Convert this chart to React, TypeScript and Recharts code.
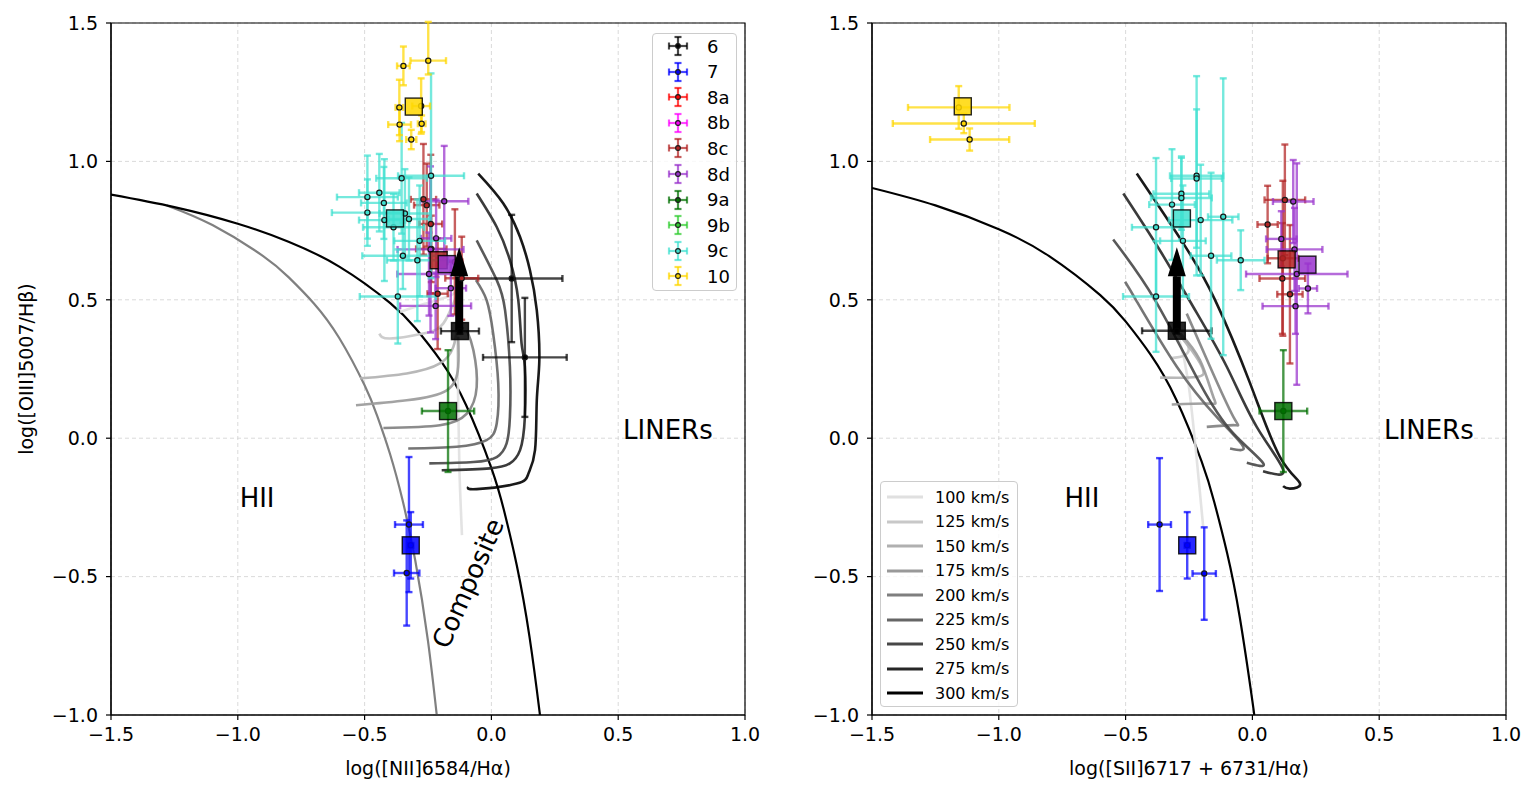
import React from "react";
import {
  ComposedChart,
  Line,
  Scatter,
  ErrorBar,
  XAxis,
  YAxis,
  CartesianGrid,
  ReferenceArea,
  ReferenceDot,
  ReferenceLine,
} from "recharts";

type Err = number | [number, number];
type Pt = { x: number; y: number; ex: Err; ey: Err };
type Sq = { g: string; x: number; y: number };
type XY = [number, number] | null;

const FONT = "'DejaVu Sans', sans-serif";

const xTicks = [-1.5, -1.0, -0.5, 0.0, 0.5, 1.0];
const yTicks = [-1.0, -0.5, 0.0, 0.5, 1.0, 1.5];

const groupNames = ["6", "7", "8a", "8b", "8c", "8d", "9a", "9b", "9c", "10"];
const groupColors = ["#000000", "#0000ff", "#ff0000", "#ff00ff", "#b22222", "#9932cc", "#006f00", "#32cd32", "#40e0d0", "#ffd700"];

const velocities = [100, 125, 150, 175, 200, 225, 250, 275, 300];
const velocityGreys = ["#e0e0e0", "#c8c8c8", "#b0b0b0", "#999999", "#7f7f7f", "#666666", "#474747", "#262626", "#000000"];

// demarcation curves
const kewleyNii: XY[] = [
  [-1.5, 0.88], [-1.25, 0.835], [-1.0, 0.775], [-0.8, 0.71], [-0.6, 0.62], [-0.4, 0.489], [-0.3, 0.398],
  [-0.2, 0.28], [-0.1, 0.12], [0.0, -0.108], [0.05, -0.262], [0.1, -0.459], [0.15, -0.716], [0.19, -0.989], [0.2, -1.069],
];
const kauffmannNii: XY[] = [
  [-1.28, 0.841], [-1.1, 0.77], [-0.9, 0.658], [-0.8, 0.582], [-0.7, 0.487], [-0.6, 0.362], [-0.5, 0.191],
  [-0.45, 0.08], [-0.4, -0.056], [-0.35, -0.225], [-0.3, -0.443], [-0.25, -0.733], [-0.21, -1.046],
];
const kewleySii: XY[] = [
  [-1.5, 0.904], [-1.25, 0.841], [-1.0, 0.755], [-0.8, 0.657], [-0.6, 0.517], [-0.5, 0.422], [-0.4, 0.3],
  [-0.3, 0.139], [-0.2, -0.085], [-0.15, -0.232], [-0.1, -0.414], [-0.05, -0.646], [0.0, -0.95], [0.01, -1.023],
];

// shock model tracks, one per velocity (100 ... 300 km/s)
const shockNii: XY[][] = [
  [[-0.36, 0.456], [-0.27, 0.484], [-0.176, 0.51], [-0.137, 0.529], null, [-0.136, 0.414], [-0.131, 0.137], [-0.126, -0.116], [-0.116, -0.35]],
  [[-0.442, 0.378], [-0.4, 0.36], [-0.269, 0.378], [-0.19, 0.414], [-0.144, 0.499], [-0.124, 0.535]],
  [[-0.518, 0.216], [-0.334, 0.234], [-0.203, 0.27], [-0.15, 0.33], [-0.137, 0.39]],
  [[-0.534, 0.119], [-0.334, 0.137], [-0.176, 0.173], [-0.131, 0.258], [-0.131, 0.366]],
  [[-0.426, 0.037], [-0.203, 0.047], [-0.097, 0.089], [-0.058, 0.185], [-0.071, 0.318], [-0.097, 0.39]],
  [[-0.328, -0.037], [-0.137, -0.031], [-0.019, -0.007], [0.021, 0.053], [0.027, 0.198], [0.007, 0.378], [-0.019, 0.499], [-0.061, 0.571]],
  [[-0.245, -0.091], [-0.071, -0.086], [0.021, -0.068], [0.06, -0.019], [0.073, 0.077], [0.073, 0.258], [0.054, 0.462], [0.021, 0.571], [-0.058, 0.715]],
  [[-0.196, -0.116], [-0.006, -0.109], [0.073, -0.091], [0.113, -0.043], [0.132, 0.077], [0.132, 0.258], [0.119, 0.342], [0.106, 0.499], [0.073, 0.643], [0.021, 0.763], [-0.058, 0.884]],
  [[-0.091, -0.176], [-0.058, -0.184], [0.1, -0.164], [0.146, -0.128], [0.172, -0.043], [0.179, 0.137], [0.189, 0.282], [0.179, 0.462], [0.152, 0.607], [0.113, 0.727], [0.047, 0.848], [-0.052, 0.956]],
];
const shockSii: XY[][] = [
  [[-0.293, 0.372], [-0.254, 0.21], [-0.218, -0.09], [-0.194, -0.32]],
  [[-0.293, 0.379], [-0.254, 0.335], [-0.266, 0.3], [-0.325, 0.289]],
  [[-0.293, 0.379], [-0.226, 0.3], [-0.194, 0.246], [-0.22, 0.221], [-0.364, 0.219]],
  [[-0.285, 0.379], [-0.207, 0.282], [-0.154, 0.149], [-0.167, 0.125], [-0.318, 0.122]],
  [[-0.259, 0.45], [-0.167, 0.258], [-0.075, 0.077], [-0.069, 0.047], [-0.18, 0.041]],
  [[-0.502, 0.565], [-0.459, 0.499], [-0.298, 0.258], [-0.141, 0.077], [-0.036, -0.031], [-0.088, -0.037]],
  [[-0.549, 0.718], [-0.384, 0.499], [-0.207, 0.198], [-0.075, 0.017], [0.043, -0.091], [-0.022, -0.089]],
  [[-0.509, 0.884], [-0.365, 0.679], [-0.233, 0.474], [-0.101, 0.258], [0.017, 0.041], [0.122, -0.116], [0.042, -0.119]],
  [[-0.456, 0.956], [-0.272, 0.703], [-0.147, 0.499], [-0.009, 0.198], [0.109, -0.068], [0.188, -0.164], [0.148, -0.182], [0.121, -0.173]],
];

// [NII]/Ha measurements
const nii6: Pt[] = [
  { x: 0.08, y: 0.577, ex: 0.2, ey: 0.23 },
  { x: 0.132, y: 0.292, ex: 0.165, ey: 0.215 },
  { x: -0.124, y: 0.387, ex: 0.075, ey: 0.01 },
];
const nii7: Pt[] = [
  { x: -0.325, y: -0.312, ex: 0.055, ey: 0.244 },
  { x: -0.334, y: -0.487, ex: 0.05, ey: 0.19 },
  { x: -0.318, y: -0.387, ex: 0.01, ey: 0.12 },
];
const nii8c: Pt[] = [
  { x: -0.268, y: 0.863, ex: 0.05, ey: 0.2 },
  { x: -0.255, y: 0.842, ex: 0.05, ey: 0.15 },
  { x: -0.239, y: 0.774, ex: 0.045, ey: 0.25 },
  { x: -0.237, y: 0.684, ex: 0.06, ey: 0.12 },
  { x: -0.212, y: 0.522, ex: 0.04, ey: 0.2 },
  { x: -0.144, y: 0.637, ex: 0.03, ey: 0.19 },
  { x: -0.117, y: 0.578, ex: 0.065, ey: 0.15 },
];
const nii8d: Pt[] = [
  { x: -0.186, y: 0.856, ex: 0.095, ey: 0.2 },
  { x: -0.218, y: 0.722, ex: 0.06, ey: 0.14 },
  { x: -0.24, y: 0.682, ex: 0.13, ey: 0.3 },
  { x: -0.246, y: 0.593, ex: 0.125, ey: 0.15 },
  { x: -0.16, y: 0.542, ex: 0.06, ey: 0.1 },
  { x: -0.22, y: 0.478, ex: 0.14, ey: 0.12 },
];
const nii9a: Pt[] = [{ x: -0.171, y: 0.098, ex: 0.103, ey: 0.22 }];
const nii9c: Pt[] = [
  { x: -0.354, y: 0.939, ex: 0.1, ey: 0.2 },
  { x: -0.238, y: 0.948, ex: 0.13, ey: 0.37 },
  { x: -0.442, y: 0.887, ex: 0.08, ey: 0.14 },
  { x: -0.489, y: 0.871, ex: 0.12, ey: 0.15 },
  { x: -0.424, y: 0.85, ex: 0.09, ey: 0.13 },
  { x: -0.489, y: 0.815, ex: 0.14, ey: 0.12 },
  { x: -0.422, y: 0.788, ex: 0.1, ey: 0.22 },
  { x: -0.341, y: 0.812, ex: 0.1, ey: 0.16 },
  { x: -0.325, y: 0.792, ex: 0.08, ey: 0.15 },
  { x: -0.386, y: 0.762, ex: 0.12, ey: 0.12 },
  { x: -0.283, y: 0.713, ex: 0.1, ey: 0.2 },
  { x: -0.349, y: 0.659, ex: 0.16, ey: 0.12 },
  { x: -0.292, y: 0.643, ex: 0.12, ey: 0.22 },
  { x: -0.369, y: 0.512, ex: 0.15, ey: 0.17 },
];
const nii10: Pt[] = [
  { x: -0.347, y: 1.345, ex: 0.025, ey: 0.07 },
  { x: -0.249, y: 1.364, ex: 0.07, ey: [0.05, 0.14] },
  { x: -0.363, y: 1.195, ex: 0.015, ey: 0.1 },
  { x: -0.277, y: 1.2, ex: 0.035, ey: 0.1 },
  { x: -0.362, y: 1.133, ex: 0.045, ey: 0.06 },
  { x: -0.275, y: 1.136, ex: 0.015, ey: 0.03 },
  { x: -0.316, y: 1.079, ex: 0.02, ey: 0.035 },
];
const niiSquares: Sq[] = [
  { g: "10", x: -0.306, y: 1.198 },
  { g: "9c", x: -0.38, y: 0.794 },
  { g: "8c", x: -0.208, y: 0.643 },
  { g: "8d", x: -0.176, y: 0.629 },
  { g: "9a", x: -0.171, y: 0.098 },
  { g: "7", x: -0.318, y: -0.387 },
  { g: "6", x: -0.124, y: 0.387 },
];

// [SII]/Ha measurements
const sii6: Pt[] = [{ x: -0.298, y: 0.388, ex: 0.137, ey: 0.01 }];
const sii7: Pt[] = [
  { x: -0.366, y: -0.312, ex: 0.045, ey: 0.24 },
  { x: -0.19, y: -0.489, ex: 0.046, ey: 0.167 },
  { x: -0.257, y: -0.387, ex: 0.01, ey: 0.12 },
];
const sii8c: Pt[] = [
  { x: 0.06, y: 0.772, ex: 0.04, ey: 0.14 },
  { x: 0.128, y: 0.861, ex: 0.08, ey: 0.2 },
  { x: 0.12, y: 0.65, ex: 0.06, ey: 0.28 },
  { x: 0.118, y: 0.577, ex: 0.09, ey: 0.2 },
  { x: 0.148, y: 0.52, ex: 0.05, ey: 0.25 },
];
const sii8d: Pt[] = [
  { x: 0.161, y: 0.855, ex: 0.08, ey: 0.15 },
  { x: 0.114, y: 0.72, ex: 0.06, ey: 0.1 },
  { x: 0.166, y: 0.682, ex: 0.11, ey: 0.15 },
  { x: 0.175, y: 0.593, ex: 0.2, ey: 0.4 },
  { x: 0.219, y: 0.541, ex: 0.036, ey: 0.09 },
  { x: 0.17, y: 0.477, ex: 0.13, ey: 0.1 },
];
const sii9a: Pt[] = [{ x: 0.122, y: 0.098, ex: 0.094, ey: 0.22 }];
const sii9c: Pt[] = [
  { x: -0.22, y: 0.948, ex: 0.105, ey: 0.36 },
  { x: -0.22, y: 0.938, ex: 0.1, ey: 0.25 },
  { x: -0.28, y: 0.883, ex: 0.11, ey: 0.13 },
  { x: -0.28, y: 0.868, ex: 0.12, ey: 0.15 },
  { x: -0.317, y: 0.844, ex: 0.09, ey: 0.2 },
  { x: -0.204, y: 0.788, ex: 0.125, ey: 0.2 },
  { x: -0.38, y: 0.762, ex: 0.095, ey: 0.25 },
  { x: -0.274, y: 0.713, ex: 0.09, ey: 0.2 },
  { x: -0.163, y: 0.659, ex: 0.08, ey: 0.3 },
  { x: -0.115, y: 0.8, ex: 0.06, ey: 0.5 },
  { x: -0.046, y: 0.643, ex: 0.094, ey: 0.108 },
  { x: -0.38, y: 0.512, ex: 0.13, ey: 0.2 },
];
const sii10: Pt[] = [
  { x: -1.158, y: 1.195, ex: 0.2, ey: 0.077 },
  { x: -1.138, y: 1.137, ex: 0.28, ey: 0.035 },
  { x: -1.115, y: 1.079, ex: 0.156, ey: 0.04 },
];
const siiSquares: Sq[] = [
  { g: "10", x: -1.142, y: 1.199 },
  { g: "9c", x: -0.278, y: 0.794 },
  { g: "8c", x: 0.135, y: 0.646 },
  { g: "8d", x: 0.217, y: 0.627 },
  { g: "9a", x: 0.122, y: 0.098 },
  { g: "7", x: -0.257, y: -0.387 },
  { g: "6", x: -0.298, y: 0.388 },
];

const colorOf = (g: string) => groupColors[groupNames.indexOf(g)];
const toPts = (a: XY[]) => a.map((p) => (p ? { x: p[0], y: p[1] } : { x: null, y: null }));
const fmt = (v: number) => (v < 0 ? "\u2212" : "") + Math.abs(v).toFixed(1);

type TextMark = { x: number; y: number; text: string; angle?: number };

type PanelProps = {
  width: number;
  marginLeft: number;
  marginRight: number;
  boundaries: { pts: XY[]; color: string }[];
  shocks: XY[][];
  groups: { g: string; pts: Pt[] }[];
  squares: Sq[];
  arrowX: number;
  xLabel: string;
  yLabel?: string;
  texts: TextMark[];
};

function Panel(props: PanelProps) {
  const { width, marginLeft, marginRight, boundaries, shocks, groups, squares, arrowX, xLabel, yLabel, texts } = props;
  const tickStyle = { fontSize: 19, fill: "#000", fontFamily: FONT };
  return (
    <ComposedChart width={width} height={797} margin={{ top: 23, right: marginRight, bottom: 22, left: marginLeft }}>
      <CartesianGrid stroke="#d6d6d6" strokeDasharray="4 3" strokeWidth={0.9} />
      <XAxis
        type="number"
        dataKey="x"
        domain={[-1.5, 1]}
        ticks={xTicks}
        interval={0}
        allowDataOverflow
        tickFormatter={fmt}
        tick={tickStyle}
        tickSize={5}
        tickMargin={8}
        axisLine={{ stroke: "#000", strokeWidth: 1.2 }}
        tickLine={{ stroke: "#000", strokeWidth: 1.2 }}
        height={60}
        label={{ value: xLabel, position: "insideBottom", offset: 0, fontSize: 19, fill: "#000", fontFamily: FONT }}
      />
      <YAxis
        type="number"
        dataKey="y"
        domain={[-1, 1.5]}
        ticks={yTicks}
        interval={0}
        allowDataOverflow
        tickFormatter={fmt}
        tick={tickStyle}
        tickSize={5}
        tickMargin={8}
        axisLine={{ stroke: "#000", strokeWidth: 1.2 }}
        tickLine={{ stroke: "#000", strokeWidth: 1.2 }}
        width={100}
        label={
          yLabel
            ? { value: yLabel, angle: -90, position: "insideLeft", offset: 15, style: { textAnchor: "middle" }, fontSize: 19, fill: "#000", fontFamily: FONT }
            : undefined
        }
      />

      {boundaries.map((b, i) => (
        <Line key={"b" + i} data={toPts(b.pts)} dataKey="y" type="natural" stroke={b.color} strokeWidth={2.2}
          dot={false} activeDot={false} isAnimationActive={false} />
      ))}

      {shocks.map((s, i) => (
        <Line key={"s" + i} data={toPts(s)} dataKey="y" type="natural" stroke={velocityGreys[i]} strokeWidth={2.6}
          strokeOpacity={0.9} dot={false} activeDot={false} isAnimationActive={false} />
      ))}

      {groups.map(({ g, pts }) => {
        const c = colorOf(g);
        const barStyle = { stroke: c, strokeWidth: 2.4, strokeOpacity: 0.72 };
        return (
          <Scatter key={"p" + g} data={pts} dataKey="y" isAnimationActive={false}
            shape={(p: any) => <circle cx={p.cx} cy={p.cy} r={2.6} fill={c} stroke="#1a1a1a" strokeWidth={1.2} />}>
            <ErrorBar dataKey="ex" direction="x" width={3.5} {...barStyle} style={barStyle} isAnimationActive={false} />
            <ErrorBar dataKey="ey" direction="y" width={3.5} {...barStyle} style={barStyle} isAnimationActive={false} />
          </Scatter>
        );
      })}

      {squares.map((s) => {
        const c = colorOf(s.g);
        return (
          <Scatter key={"q" + s.g} data={[s]} dataKey="y" isAnimationActive={false}
            shape={(p: any) => (
              <rect x={p.cx - 8.5} y={p.cy - 8.5} width={17} height={17} fill={c} fillOpacity={0.85}
                stroke="#000" strokeOpacity={0.85} strokeWidth={1.4} />
            )} />
        );
      })}

      <ReferenceLine segment={[{ x: arrowX, y: 0.39 }, { x: arrowX, y: 0.585 }]} stroke="#000" strokeWidth={8} />
      <ReferenceDot x={arrowX} y={0.585} r={0}
        shape={(p: any) => <polygon points={`${p.cx - 9},${p.cy} ${p.cx + 9},${p.cy} ${p.cx},${p.cy - 29}`} fill="#000" />} />

      {texts.map((t) => (
        <ReferenceDot key={t.text} x={t.x} y={t.y} r={0}
          shape={(p: any) => (
            <text x={p.cx} y={p.cy} textAnchor="middle" dominantBaseline="central" fontSize={26} fontFamily={FONT} fill="#000"
              transform={t.angle ? `rotate(${t.angle}, ${p.cx}, ${p.cy})` : undefined}>
              {t.text}
            </text>
          )} />
      ))}

      <ReferenceArea x1={-1.5} x2={1} y1={-1} y2={1.5} fill="none" stroke="#000" strokeWidth={1.2} />
    </ComposedChart>
  );
}

function GroupLegend() {
  return (
    <div style={{ position: "absolute", left: 652, top: 33, width: 85, height: 258, border: "1px solid #cccccc", borderRadius: 4,
      background: "rgba(255,255,255,0.8)", boxSizing: "border-box", fontFamily: FONT }}>
      {groupNames.map((g, i) => {
        const c = colorOf(g);
        return (
          <div key={g} style={{ position: "absolute", left: 0, top: 12 + i * 25.6 - 12, height: 24, display: "flex", alignItems: "center" }}>
            <svg width={24} height={24} style={{ marginLeft: 13 }}>
              <g stroke={c} strokeWidth={2.2} strokeOpacity={0.72}>
                <line x1={3} y1={12} x2={21} y2={12} />
                <line x1={3} y1={8.5} x2={3} y2={15.5} />
                <line x1={21} y1={8.5} x2={21} y2={15.5} />
                <line x1={12} y1={3} x2={12} y2={21} />
                <line x1={8.5} y1={3} x2={15.5} y2={3} />
                <line x1={8.5} y1={21} x2={15.5} y2={21} />
              </g>
              <circle cx={12} cy={12} r={2.4} fill={c} stroke="#1a1a1a" strokeWidth={1.1} />
            </svg>
            <span style={{ marginLeft: 17, fontSize: 18, color: "#000" }}>{g}</span>
          </div>
        );
      })}
    </div>
  );
}

function VelocityLegend() {
  return (
    <div style={{ position: "absolute", left: 880, top: 481, width: 138, height: 226, border: "1px solid #cccccc", borderRadius: 4,
      background: "rgba(255,255,255,0.8)", boxSizing: "border-box", fontFamily: FONT }}>
      {velocities.map((v, i) => (
        <div key={v} style={{ position: "absolute", left: 0, top: 15 + i * 24.5 - 11, height: 22, display: "flex", alignItems: "center" }}>
          <svg width={40} height={22} style={{ marginLeft: 4 }}>
            <line x1={2} y1={11} x2={38} y2={11} stroke={velocityGreys[i]} strokeWidth={3} />
          </svg>
          <span style={{ marginLeft: 10, fontSize: 16, color: "#000" }}>{v} km/s</span>
        </div>
      ))}
    </div>
  );
}

export default function App() {
  return (
    <div style={{ position: "absolute", left: 0, top: 0, width: 1538, height: 797, background: "#fff", fontFamily: FONT }}>
      <div style={{ position: "absolute", left: 0, top: 0 }}>
        <Panel
          width={770}
          marginLeft={11}
          marginRight={25}
          boundaries={[{ pts: kauffmannNii, color: "#808080" }, { pts: kewleyNii, color: "#000000" }]}
          shocks={shockNii}
          groups={[
            { g: "6", pts: nii6 }, { g: "7", pts: nii7 }, { g: "8c", pts: nii8c }, { g: "8d", pts: nii8d },
            { g: "9a", pts: nii9a }, { g: "9c", pts: nii9c }, { g: "10", pts: nii10 },
          ]}
          squares={niiSquares}
          arrowX={-0.127}
          xLabel="log([NII]6584/Hα)"
          yLabel="log([OIII]5007/Hβ)"
          texts={[
            { x: -0.924, y: -0.217, text: "HII" },
            { x: 0.696, y: 0.029, text: "LINERs" },
            { x: -0.092, y: -0.524, text: "Composite", angle: -66 },
          ]}
        />
      </div>
      <div style={{ position: "absolute", left: 770, top: 0 }}>
        <Panel
          width={768}
          marginLeft={2}
          marginRight={32}
          boundaries={[{ pts: kewleySii, color: "#000000" }]}
          shocks={shockSii}
          groups={[
            { g: "6", pts: sii6 }, { g: "7", pts: sii7 }, { g: "8c", pts: sii8c }, { g: "8d", pts: sii8d },
            { g: "9a", pts: sii9a }, { g: "9c", pts: sii9c }, { g: "10", pts: sii10 },
          ]}
          squares={siiSquares}
          arrowX={-0.298}
          xLabel="log([SII]6717 + 6731/Hα)"
          texts={[
            { x: -0.672, y: -0.217, text: "HII" },
            { x: 0.696, y: 0.029, text: "LINERs" },
          ]}
        />
      </div>
      <GroupLegend />
      <VelocityLegend />
    </div>
  );
}
